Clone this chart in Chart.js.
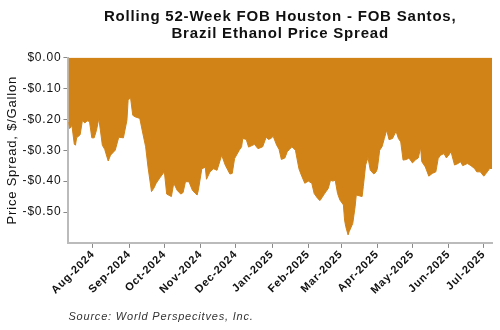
<!DOCTYPE html>
<html lang="en">
<head>
  <meta charset="UTF-8">
  <title>Rolling 52-Week FOB Houston - FOB Santos Spread</title>
  <style>
    body { margin: 0; background: #fff; }
    #wrap { width: 500px; height: 330px; }
  </style>
  <script src="https://cdn.jsdelivr.net/npm/chart.js"></script>
</head>
<body>
  <div id="wrap"><canvas id="spreadChart" width="500" height="330"></canvas></div>

  <script>
    const dates = [
      '2024-07-11','2024-07-12','2024-07-14','2024-07-16','2024-07-17','2024-07-18','2024-07-21','2024-07-23',
      '2024-07-25','2024-07-27','2024-07-29','2024-07-31','2024-08-02','2024-08-04','2024-08-06','2024-08-09',
      '2024-08-11','2024-08-14','2024-08-16','2024-08-20','2024-08-23','2024-08-27','2024-08-30','2024-08-31',
      '2024-09-02','2024-09-04','2024-09-06','2024-09-10','2024-09-12','2024-09-15','2024-09-17','2024-09-20',
      '2024-09-22','2024-09-24','2024-09-27','2024-10-01','2024-10-03','2024-10-07','2024-10-09','2024-10-12',
      '2024-10-15','2024-10-17','2024-10-19','2024-10-22','2024-10-25','2024-10-29','2024-10-30','2024-11-02',
      '2024-11-05','2024-11-06','2024-11-09','2024-11-12','2024-11-15','2024-11-19','2024-11-22','2024-11-26',
      '2024-11-28','2024-11-30','2024-12-04','2024-12-06','2024-12-07','2024-12-10','2024-12-12','2024-12-17',
      '2024-12-20','2024-12-24','2024-12-27','2024-12-29','2024-12-31','2025-01-02','2025-01-05','2025-01-07',
      '2025-01-09','2025-01-12','2025-01-14','2025-01-16','2025-01-18','2025-01-21','2025-01-24','2025-01-26',
      '2025-01-29','2025-02-01','2025-02-04','2025-02-06','2025-02-09','2025-02-11','2025-02-15','2025-02-18',
      '2025-02-20','2025-02-22','2025-02-24','2025-02-26','2025-02-28','2025-03-03','2025-03-04','2025-03-05',
      '2025-03-07','2025-03-08','2025-03-11','2025-03-13','2025-03-14','2025-03-17','2025-03-19','2025-03-20',
      '2025-03-22','2025-03-24','2025-03-26','2025-03-29','2025-03-31','2025-04-01','2025-04-03','2025-04-05',
      '2025-04-07','2025-04-09','2025-04-11','2025-04-14','2025-04-17','2025-04-19','2025-04-21','2025-04-23',
      '2025-04-26','2025-04-28','2025-05-01','2025-05-04','2025-05-06','2025-05-08','2025-05-09','2025-05-12',
      '2025-05-15','2025-05-18','2025-05-21','2025-05-23','2025-05-25','2025-05-28','2025-05-30','2025-06-01',
      '2025-06-03','2025-06-06','2025-06-09','2025-06-11','2025-06-13','2025-06-17','2025-06-20','2025-06-23',
      '2025-06-25','2025-06-28','2025-07-01','2025-07-04','2025-07-06','2025-07-08'
    ];

    // Price spread, $/gallon
    const spread = [
      -0.209,-0.230,-0.220,-0.280,-0.284,-0.260,-0.250,-0.203,
      -0.212,-0.205,-0.207,-0.260,-0.260,-0.235,-0.197,-0.284,
      -0.297,-0.335,-0.316,-0.300,-0.258,-0.260,-0.203,-0.139,
      -0.128,-0.187,-0.192,-0.197,-0.235,-0.289,-0.354,-0.434,
      -0.423,-0.407,-0.390,-0.370,-0.442,-0.450,-0.407,-0.430,
      -0.442,-0.437,-0.402,-0.402,-0.430,-0.445,-0.430,-0.360,
      -0.355,-0.394,-0.370,-0.360,-0.365,-0.316,-0.348,-0.377,
      -0.375,-0.327,-0.300,-0.289,-0.262,-0.265,-0.290,-0.281,
      -0.295,-0.289,-0.258,-0.265,-0.262,-0.255,-0.284,-0.297,
      -0.330,-0.325,-0.305,-0.297,-0.289,-0.300,-0.360,-0.380,
      -0.407,-0.400,-0.407,-0.440,-0.456,-0.463,-0.440,-0.424,
      -0.397,-0.400,-0.397,-0.440,-0.461,-0.477,-0.526,-0.547,
      -0.574,-0.563,-0.537,-0.483,-0.445,-0.448,-0.450,-0.418,
      -0.348,-0.324,-0.365,-0.377,-0.370,-0.360,-0.300,-0.289,
      -0.262,-0.235,-0.266,-0.262,-0.239,-0.262,-0.273,-0.332,
      -0.330,-0.325,-0.341,-0.330,-0.325,-0.291,-0.337,-0.354,
      -0.384,-0.375,-0.370,-0.327,-0.316,-0.311,-0.325,-0.316,
      -0.305,-0.348,-0.343,-0.337,-0.350,-0.343,-0.350,-0.359,
      -0.370,-0.370,-0.384,-0.370,-0.359,-0.359
    ];

    // Month ticks on the x axis
    const monthTicks = ['2024-08-01','2024-09-01','2024-10-01','2024-11-01','2024-12-01','2025-01-01',
                        '2025-02-01','2025-03-01','2025-04-01','2025-05-01','2025-06-01','2025-07-01'];
    const monthNames = ['Jan','Feb','Mar','Apr','May','Jun','Jul','Aug','Sep','Oct','Nov','Dec'];

    const toDay = s => Date.parse(s + 'T00:00:00Z') / 86400000;
    const points = dates.map((d, i) => ({ x: toDay(d), y: spread[i] }));
    const tickDays = monthTicks.map(toDay);

    function monthLabel(day) {
      const d = new Date(day * 86400000);
      return monthNames[d.getUTCMonth()] + '-' + d.getUTCFullYear();
    }

    // the original text is set a little loose, so space the letters out
    const spacing = {
      id: 'spacing',
      beforeUpdate(chart) { chart.ctx.letterSpacing = '0.8px'; },
      beforeDraw(chart) { chart.ctx.letterSpacing = '0.8px'; }
    };

    Chart.defaults.font.family = '"Liberation Sans", Arial, sans-serif';
    Chart.defaults.color = '#222';

    new Chart(document.getElementById('spreadChart'), {
      type: 'line',
      data: {
        datasets: [{
          data: points,
          fill: 'origin',
          backgroundColor: '#D18318',
          borderColor: '#D18318',
          borderWidth: 1,
          pointRadius: 0,
          tension: 0
        }]
      },
      plugins: [spacing],
      options: {
        responsive: false,
        animation: false,
        layout: { padding: { top: 8, right: 8, left: 5, bottom: 6 } },
        plugins: {
          legend: { display: false },
          tooltip: { enabled: false },
          title: {
            display: true,
            fullSize: false,
            text: ['Rolling 52-Week FOB Houston - FOB Santos,', 'Brazil Ethanol Price Spread'],
            font: { size: 15, weight: 'bold', lineHeight: 1.15 },
            color: '#111',
            padding: { top: 0, bottom: 15 }
          },
          subtitle: {
            display: true,
            fullSize: false,
            position: 'bottom',
            align: 'start',
            text: 'Source: World Perspecitves, Inc.',
            font: { size: 11, style: 'italic' },
            color: '#333',
            padding: { top: 14, bottom: 0 }
          }
        },
        scales: {
          x: {
            type: 'linear',
            min: points[0].x,
            max: points[points.length - 1].x,
            afterBuildTicks: scale => { scale.ticks = tickDays.map(v => ({ value: v })); },
            ticks: {
              autoSkip: false,
              maxRotation: 45,
              minRotation: 45,
              font: { size: 11, weight: 'bold' },
              color: '#111',
              padding: 0,
              callback: v => monthLabel(v)
            },
            grid: { display: true, drawOnChartArea: false, tickLength: 5, color: '#888' },
            border: { color: '#bbb', width: 2 }
          },
          y: {
            min: -0.6,
            max: 0,
            ticks: {
              stepSize: 0.1,
              font: { size: 12 },
              color: '#111',
              padding: 2,
              callback: v => {
                if (v < -0.55) return '';
                if (Math.abs(v) < 1e-9) return '$0.00';
                return '-$' + Math.abs(v).toFixed(2);
              }
            },
            title: {
              display: true,
              text: 'Price Spread, $/Gallon',
              font: { size: 13 },
              color: '#111',
              padding: { top: 0, bottom: 0 }
            },
            grid: {
              display: true,
              drawOnChartArea: false,
              tickLength: 5,
              color: c => (c.tick && c.tick.value < -0.55) ? 'rgba(0,0,0,0)' : '#888'
            },
            border: { color: '#bbb', width: 2 }
          }
        }
      }
    });
  </script>
</body>
</html>
